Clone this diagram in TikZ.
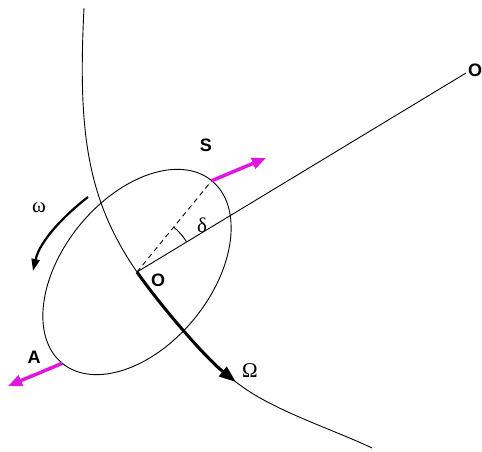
\documentclass[tikz,border=0pt]{standalone}
\usepackage{fontspec}
\setmainfont{Liberation Serif}
\setsansfont{Liberation Sans}
\usetikzlibrary{arrows.meta}
\definecolor{mag}{RGB}{225,20,225}
\begin{document}
\begin{tikzpicture}[x=1pt,y=-1pt,
  thinline/.style={line width=0.9pt},
  lbl/.style={font=\sffamily\bfseries\fontsize{18}{18}\selectfont, inner sep=0pt},
  glbl/.style={font=\fontsize{21}{21}\selectfont, inner sep=0pt},
  vec/.style={mag, line width=3.5pt, -{Triangle[length=14pt,width=11pt]}},
  bigarrow/.style={line width=3pt, -{Triangle[length=17pt,width=12pt]}},
  rotarrow/.style={line width=2.2pt, -{Triangle[length=12pt,width=8pt]}}]
\useasboundingbox (0,0) rectangle (482,452);
% key points
\coordinate (O) at (137,272);
\coordinate (far) at (466,73);
\coordinate (Sp) at (211.7,180.7);
\coordinate (Ap) at (62.3,363.3);
\coordinate (Stip) at (266,158);
\coordinate (Atip) at (8,386);
\coordinate (Otip) at (236,382);
\coordinate (ctop) at (84,8);
\coordinate (cend) at (372,448);
\coordinate (w1) at (88,197);
\coordinate (w2) at (33,271);
% orbit curve
\draw[thinline] (ctop) .. controls (78,128) and (85.7,198) .. (O)
  .. controls (159.8,304.8) and (204.8,357.2) .. (Otip)
  .. controls (271,410) and (331.5,428.6) .. (cend);
% thick orbital velocity arrow
\draw[bigarrow] (O) .. controls (159.8,304.8) and (204.8,357.2) .. (Otip);
% line to far body
\draw[thinline] (O) -- (far);
% dashed line to S
\draw[thinline, dashed, dash pattern=on 5pt off 4pt] (O) -- (Sp);
% ellipse
\draw[thinline, rotate around={50.7:(O)}] (O) ellipse [x radius=118pt, y radius=74pt];
% delta arc
\draw[thinline] (O) ++(31:58pt) arc [start angle=31, end angle=50.7, radius=58pt];
% magenta arrows
\draw[vec] (Sp) -- (Stip);
\draw[vec] (Ap) -- (Atip);
% omega rotation arrow
\draw[rotarrow] (w1) .. controls (66,214) and (40,240) .. (w2);
% labels
\node[lbl] (Slbl) at (206,145) {S};
\node[lbl] (Olbl) at (158,280) {O};
\node[lbl] (Albl) at (34,357) {A};
\node[lbl] (farlbl) at (475,70) {O};
\node[glbl] (wlbl) at (39,208) {ω};
\node[glbl] (dlbl) at (202,225) {δ};
\node[glbl] (Wlbl) at (250,371) {Ω};
\end{tikzpicture}
\end{document}
